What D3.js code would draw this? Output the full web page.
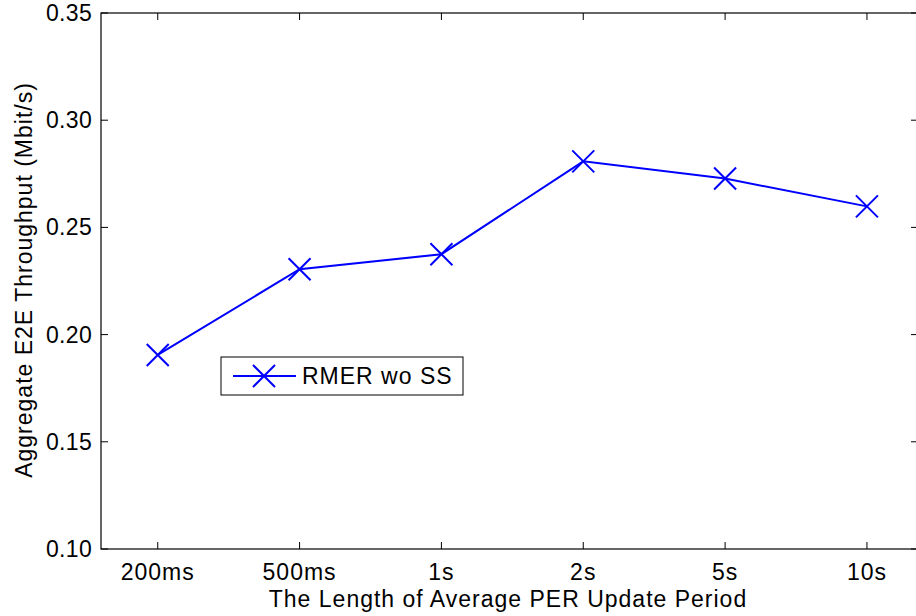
<!DOCTYPE html>
<html>
<head>
<meta charset="utf-8">
<script src="https://cdn.jsdelivr.net/npm/d3@7"></script>
<style>
  body { margin: 0; background: #fff; }
  text { font-family: "Liberation Sans", Arial, sans-serif; fill: #000; font-size: 23px; letter-spacing: 1px; }
</style>
</head>
<body>
<div id="chart"></div>
<script>
const categories = ['200ms', '500ms', '1s', '2s', '5s', '10s'];
const throughput = [0.1905, 0.2305, 0.2375, 0.2808, 0.2728, 0.2598];
const yTicks = [0.10, 0.15, 0.20, 0.25, 0.30, 0.35];
const seriesName = 'RMER wo SS';

const width = 916, height = 616;
const plot = { left: 101, right: 918, top: 13, bottom: 549 };

const svg = d3.select('#chart').append('svg')
  .attr('width', width).attr('height', height);

// categories sit at 1..6, axis runs from 0.6 to ~6.35
const xScale = d3.scaleLinear().domain([0.6, 6.36]).range([plot.left, plot.right]);
const yScale = d3.scaleLinear().domain([0.10, 0.35]).range([plot.bottom, plot.top]);
const xIdx = (i) => xScale(i + 1);

const tickLen = 7;

// frame
svg.append('rect')
  .attr('x', plot.left).attr('y', plot.top)
  .attr('width', plot.right - plot.left).attr('height', plot.bottom - plot.top)
  .attr('fill', 'none').attr('stroke', '#000').attr('stroke-width', 1.2);

// x ticks (bottom and top, pointing inward)
const xt = svg.append('g');
categories.forEach((c, i) => {
  const x = xIdx(i);
  xt.append('line').attr('x1', x).attr('x2', x).attr('y1', plot.bottom).attr('y2', plot.bottom - tickLen)
    .attr('stroke', '#000');
  xt.append('line').attr('x1', x).attr('x2', x).attr('y1', plot.top).attr('y2', plot.top + tickLen)
    .attr('stroke', '#000');
  xt.append('text').attr('x', x).attr('y', 580)
    .attr('text-anchor', 'middle').text(c);
});

// y ticks (left and right, pointing inward)
const yt = svg.append('g');
yTicks.forEach((v) => {
  const y = yScale(v);
  yt.append('line').attr('x1', plot.left).attr('x2', plot.left + tickLen).attr('y1', y).attr('y2', y)
    .attr('stroke', '#000');
  yt.append('line').attr('x1', plot.right).attr('x2', plot.right - tickLen).attr('y1', y).attr('y2', y)
    .attr('stroke', '#000');
  yt.append('text').attr('x', plot.left - 9).attr('y', y + 8)
    .attr('text-anchor', 'end').style('letter-spacing', '0.3px').text(v.toFixed(2));
});

// axis titles
svg.append('text')
  .attr('x', 508).attr('y', 607)
  .attr('text-anchor', 'middle')
  .text('The Length of Average PER Update Period');

svg.append('text')
  .attr('transform', `translate(32, 280) rotate(-90)`)
  .attr('text-anchor', 'middle')
  .text('Aggregate E2E Throughput (Mbit/s)');

// series
const blue = '#0000ff';
const line = d3.line().x((d, i) => xIdx(i)).y((d) => yScale(d));
svg.append('path').datum(throughput)
  .attr('d', line).attr('fill', 'none').attr('stroke', blue).attr('stroke-width', 2);

const m = 11;
function cross(g, x, y) {
  g.append('path')
    .attr('d', `M${x - m},${y - m}L${x + m},${y + m}M${x - m},${y + m}L${x + m},${y - m}`)
    .attr('stroke', blue).attr('stroke-width', 2).attr('fill', 'none');
}
const marks = svg.append('g');
throughput.forEach((d, i) => cross(marks, xIdx(i), yScale(d)));

// legend
const lg = svg.append('g');
lg.append('rect').attr('x', 221).attr('y', 357).attr('width', 242).attr('height', 38)
  .attr('fill', '#fff').attr('stroke', '#000').attr('stroke-width', 1);
lg.append('line').attr('x1', 233).attr('x2', 296).attr('y1', 376).attr('y2', 376)
  .attr('stroke', blue).attr('stroke-width', 2);
cross(lg, 264, 376);
lg.append('text').attr('x', 302).attr('y', 384).text(seriesName);
</script>
</body>
</html>
